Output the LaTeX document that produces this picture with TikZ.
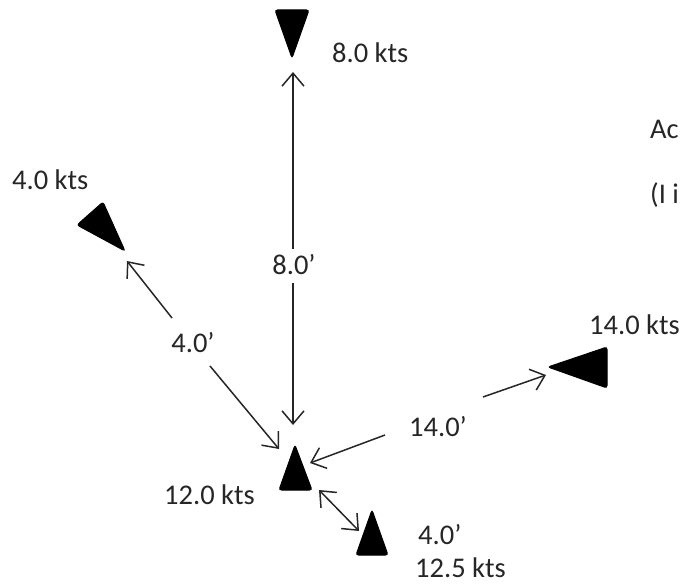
\documentclass[tikz,border=0pt]{standalone}
\usepackage{fontspec}
\setmainfont{Carlito}
\usetikzlibrary{arrows.meta}
\definecolor{txt}{HTML}{262626}
\tikzset{
  lbl/.style={inner sep=0pt, text=txt, font=\fontsize{28.5}{33}\selectfont},
  ship/.style={fill=black, draw=black, line width=1pt, rounded corners=2.5pt},
  arr/.style={draw=txt, line width=1.5pt, -{Straight Barb[length=13pt,width=22pt,line width=1.5pt]}},
  darr/.style={draw=txt, line width=1.5pt, {Straight Barb[length=13pt,width=22pt,line width=1.5pt]}-{Straight Barb[length=13pt,width=22pt,line width=1.5pt]}}
}
\begin{document}
\begin{tikzpicture}[x=1pt,y=-1pt]
\useasboundingbox (0,0) rectangle (683,585);
% ships
\filldraw[ship] (275,10) -- (309,10) -- (292,58) -- cycle;
\filldraw[ship] (77,225) -- (103,202) -- (125,251) -- cycle;
\filldraw[ship] (548,367) -- (607,347) -- (607,388) -- cycle;
\filldraw[ship] (295,445) -- (312,490) -- (279,490) -- cycle;
\filldraw[ship] (372,510) -- (388,555) -- (356,555) -- cycle;
% speed labels
\node[lbl, anchor=west] (sTop) at (332,53) {8.0 kts};
\node[lbl, anchor=west] (sLeft) at (12,180) {4.0 kts};
\node[lbl, anchor=west] (sRight) at (589,325) {14.0 kts};
\node[lbl, anchor=west] (sCenter) at (164,495) {12.0 kts};
\node[lbl, anchor=west] (dSmall) at (418,535) {4.0’};
\node[lbl, anchor=west] (sBottom) at (415,568) {12.5 kts};
\node[lbl, anchor=west] (tA) at (650,129) {Ac};
\node[lbl, anchor=west] (tB) at (650,195) {(I i};
% distance labels
\node[lbl] (dTop) at (294,265) {8.0’};
\node[lbl] (dLeft) at (193,343) {4.0’};
\node[lbl] (dRight) at (438,427) {14.0’};
% connector end points
\coordinate (vTopTip) at (293,72);
\coordinate (vTopEnd) at (293,249);
\coordinate (vBotEnd) at (293,283);
\coordinate (vBotTip) at (293,425);
\coordinate (lTopTip) at (127,261);
\coordinate (lTopEnd) at (172,318);
\coordinate (lBotEnd) at (210,366);
\coordinate (lBotTip) at (279,449);
\coordinate (rTopTip) at (546,375);
\coordinate (rTopEnd) at (483,397);
\coordinate (rBotEnd) at (385,435);
\coordinate (rBotTip) at (310,463);
\coordinate (smA) at (319,490);
\coordinate (smB) at (359,531);
% connectors
\draw[arr] (vTopEnd) -- (vTopTip);
\draw[arr] (vBotEnd) -- (vBotTip);
\draw[arr] (lTopEnd) -- (lTopTip);
\draw[arr] (lBotEnd) -- (lBotTip);
\draw[arr] (rTopEnd) -- (rTopTip);
\draw[arr] (rBotEnd) -- (rBotTip);
\draw[darr] (smA) -- (smB);
\end{tikzpicture}
\end{document}
